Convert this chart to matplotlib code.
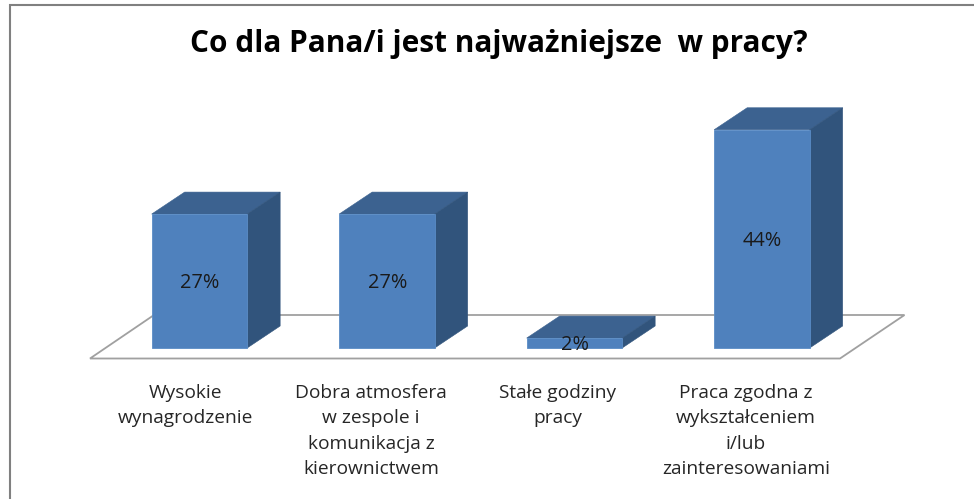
import matplotlib
matplotlib.use("Agg")
import matplotlib.pyplot as plt
from matplotlib.patches import Polygon, Rectangle

categories = ["Wysokie\nwynagrodzenie",
              "Dobra atmosfera\nw zespole i\nkomunikacja z\nkierownictwem",
              "Stałe godziny\npracy",
              "Praca zgodna z\nwykształceniem\ni/lub\nzainteresowaniami"]
values = [27, 27, 2, 44]
value_labels = ["27%", "27%", "2%", "44%"]
title = "Co dla Pana/i jest najważniejsze  w pracy?"

W, H = 974, 499
PX_PER_CAT = 187.5
PX_PER_PCT = 4.96
X0_PX = 199.4   # pixel centre of first category
Y0_PX = 348     # pixel row of zero line
LABEL_CENTRES_PX = [185, 371, 558, 746]

FRONT = "#4F81BD"
TOP = "#3C6290"
SIDE = "#31547C"
EDGE = "#5A8CC6"
GREY = "#A0A0A0"

fig = plt.figure(figsize=(W / 100, H / 100), dpi=100, facecolor="white")
ax = fig.add_axes([0, 0, 1, 1])
ax.set_xlim(-X0_PX / PX_PER_CAT, (W - X0_PX) / PX_PER_CAT)
ax.set_ylim(-(H - Y0_PX) / PX_PER_PCT, Y0_PX / PX_PER_PCT)
ax.axis("off")

def X(px):
    return (px - X0_PX) / PX_PER_CAT
def Y(px):
    return (Y0_PX - px) / PX_PER_PCT

# outer frame
ax.plot([X(10), X(10)], [Y(499), Y(4)], color="#808080", lw=1.5, solid_capstyle="butt")
ax.plot([X(9), X(974)], [Y(5), Y(5)], color="#808080", lw=1.5, solid_capstyle="butt")

# floor
floor = [(X(90), Y(358.5)), (X(840), Y(358.5)), (X(904.5), Y(315)), (X(154), Y(315))]
ax.add_patch(Polygon(floor, closed=True, fc="white", ec=GREY, lw=1.3, zorder=1))

bw = 95.5 / PX_PER_CAT
dx = 33 / PX_PER_CAT
dy = 22 / PX_PER_PCT
for i, v in enumerate(values):
    l, r = i - bw / 2, i + bw / 2
    ax.add_patch(Polygon([(l, v), (r, v), (r + dx, v + dy), (l + dx, v + dy)],
                         closed=True, fc=TOP, ec=TOP, lw=0.4, zorder=3))
    ax.add_patch(Polygon([(r, 0), (r + dx, dy), (r + dx, v + dy), (r, v)],
                         closed=True, fc=SIDE, ec=SIDE, lw=0.4, zorder=3))
    ax.add_patch(Rectangle((l, 0), bw, v, fc=FRONT, ec=EDGE, lw=0.6, zorder=4))
    ax.text(i + 0.5 / PX_PER_CAT, v / 2 - 0.4 if v > 5 else 0.7, value_labels[i],
            ha="center", va="center", fontsize=14.4, color="#1a1a1a",
            family="Open Sans", zorder=5)
    ax.text(X(LABEL_CENTRES_PX[i]), Y(384), categories[i], ha="center", va="top",
            fontsize=13.8, color="#262626", family="Open Sans",
            linespacing=1.53, zorder=5)

ax.text(X(498.5), Y(44), title, ha="center", va="center", fontsize=21.4,
        fontweight="bold", family="Open Sans", color="black")

fig.savefig("out.png", dpi=100, facecolor="white")
